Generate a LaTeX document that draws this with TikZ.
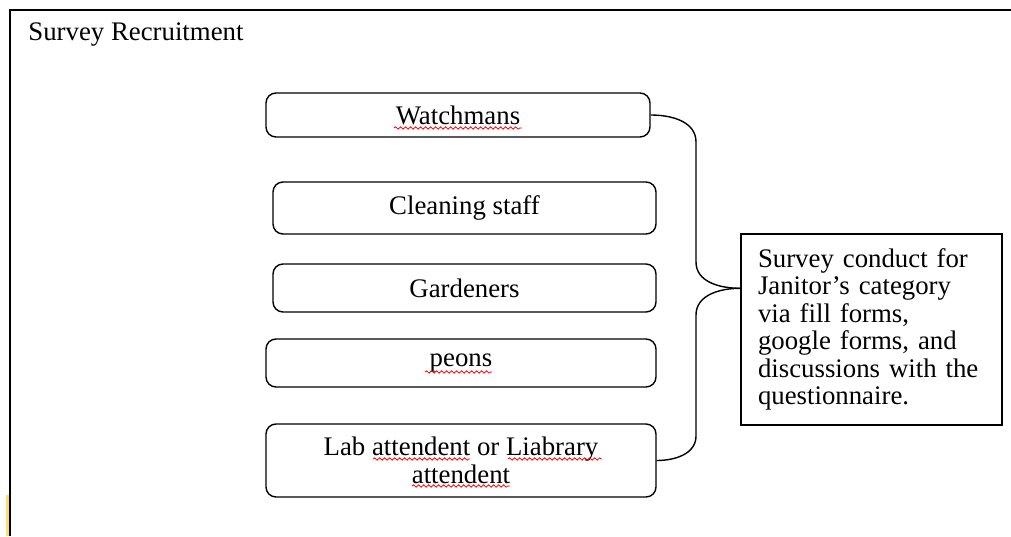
\documentclass[tikz,border=0pt]{standalone}
\usepackage{fontspec}
\setmainfont{Liberation Serif}
\usetikzlibrary{positioning,decorations.pathmorphing}

\tikzset{
  catbox/.style={draw, rounded corners=5pt, line width=0.7pt, align=center, inner sep=0pt},
  notebox/.style={draw, line width=0.7pt, align=left, inner xsep=8.5pt, text width=113.5pt, minimum height=95.5pt},
  brace/.style={line width=0.7pt},
  spell/.style={red, line width=0.4pt, decorate, decoration={snake, amplitude=0.6pt, segment length=2.5pt}},
}

\begin{document}
\begin{tikzpicture}[x=0.5pt, y=0.5pt, font=\fontsize{13.4}{13.7}\selectfont]
  \useasboundingbox (0,0) rectangle (1011,536);
  % frame
  \fill[yellow!60!orange!55] (6,0) rectangle (9,41);
  \draw[line width=1pt] (10,0) -- (10,526) -- (1011,526);
  \node[anchor=west, inner sep=0pt] (title) at (28,501) {Survey Recruitment};

  % categories
  \node[catbox, minimum width=192pt, minimum height=22pt] (watch) at (458,421) {Watchmans};
  \node[catbox, minimum width=191.5pt, minimum height=26pt] (clean) at (464.5,328) {Cleaning staff};
  \node[catbox, minimum width=191.5pt, minimum height=24pt] (garden) at (464.5,248) {Gardeners};
  \node[catbox, minimum width=195pt, minimum height=24pt] (peons) at (461,173) {peons};
  \node[catbox, minimum width=195pt, minimum height=36.5pt] (lab) at (461,75.5)
    {Lab attendent or Liabrary\\attendent};

  % survey note
  \node[notebox] (survey) at (871.5,206.5) {Survey conduct for\\Janitor’s category\\via fill forms,\\google forms, and\\discussions with the\\questionnaire.\\[-3pt]};
  \coordinate[below=27.5pt of survey.north west] (tip);

  % brace
  \draw[brace] (watch.east) to[out=0,in=90] (696,394) -- (696,274) to[out=-90,in=180] (tip);
  \draw[brace] (tip) to[out=180,in=90] (696,221) -- (696,100) to[out=-90,in=0] (lab.east);

  % spelling marks
  \draw[spell] (394,408) -- (522,408);
  \draw[spell] (425,164) -- (492,164);
  \draw[spell] (373,77) -- (470,77);
  \draw[spell] (508,77) -- (602,77);
  \draw[spell] (412,50) -- (510,50);
\end{tikzpicture}
\end{document}
